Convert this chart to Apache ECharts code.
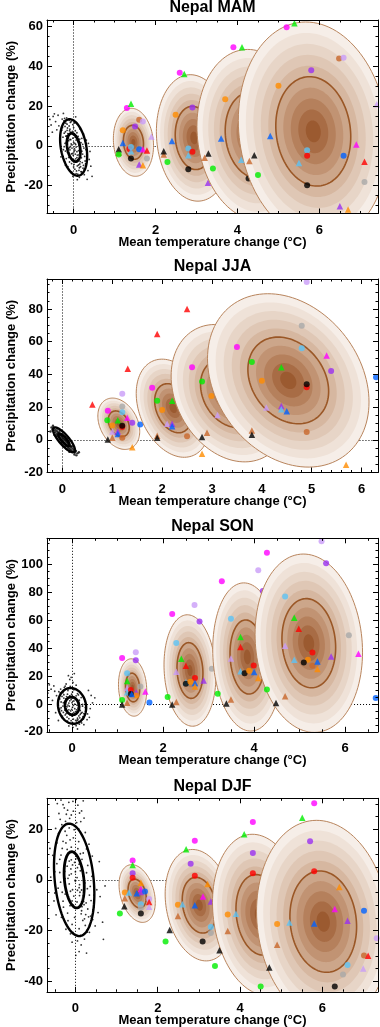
<!DOCTYPE html>
<html><head><meta charset="utf-8">
<script src="https://cdn.jsdelivr.net/npm/echarts@6/dist/echarts.min.js"></script>
<style>html,body{margin:0;padding:0;background:#fff}#c{width:380px;height:1027px}</style>
</head><body><div id="c"></div>
<script>
// ---------------- DATA ----------------
const TITLES = ['Nepal MAM', 'Nepal JJA', 'Nepal SON', 'Nepal DJF'];
const X_MIN = [-0.65, -0.31, -0.55, -0.69];
const X_MAX = [7.43, 6.33, 6.72, 7.35];
const Y_MIN = [-34, -20, -20, -44.2];
const Y_MAX = [63.3, 98.3, 118.9, 32.2];
const X_TICKS = [[0, 2, 4, 6], [0, 1, 2, 3, 4, 5, 6], [0, 2, 4, 6], [0, 2, 4, 6]];
const Y_TICKS = [[-20, 0, 20, 40, 60], [-20, 0, 20, 40, 60, 80], [-20, 0, 20, 40, 60, 80, 100], [-40, -20, 0, 20]];
const X_MINOR = [0.5, 0.2, 0.5, 0.5];
const Y_MINOR = [5, 5, 5, 5];

// control-run noise clouds (x, y)
const MAM_CLOUD = [[-0.21,9.8],[-0.14,6.2],[-0.07,3.1],[0.02,-1.4],[0.09,-4.6],[0.16,-7.9],[0.23,-11.2],
[-0.26,4.4],[-0.18,1.7],[-0.1,-0.9],[-0.03,-3.8],[0.05,-6.5],[0.12,-9.6],[0.19,-13.1],
[-0.24,12.6],[-0.16,10.9],[-0.09,8.4],[-0.01,5.7],[0.06,2.9],[0.13,0.2],[0.2,-2.7],[0.27,-5.3],
[-0.29,7.9],[-0.2,-2.6],[-0.12,-5.8],[-0.05,-8.9],[0.03,-11.7],[0.1,-14.2],
[-0.17,14.1],[-0.08,11.8],[0.0,9.2],[0.08,6.6],[0.15,3.4],[0.22,0.8],[0.3,-1.9],
[-0.33,2.2],[-0.23,-0.4],[-0.15,-3.3],[-0.06,-6.1],[0.01,-9.3],[0.07,-12.6],[0.14,-15.8],
[-0.11,12.9],[-0.02,10.7],[0.04,7.6],[0.11,4.8],[0.18,1.6],[0.25,-1.1],[0.32,-4.2],
[-0.36,10.1],[-0.28,13.5],[-0.19,4.9],[0.09,-17.0],[0.29,-9.1],[0.35,-12.4],[0.38,-6.8],
[-0.04,0.5],[0.03,-2.2],[-0.12,2.6],[0.1,-7.1],[-0.07,6.9],[0.17,-5.6],[-0.15,9.0],[0.21,-8.4],
[0.0,1.8],[0.06,-0.6],[-0.09,-2.0],[0.14,-11.0],[-0.2,7.1],[0.26,-14.5],
[-0.44,12.2],[-0.5,14.8],[-0.55,10.5],[-0.41,8.1],[-0.47,16.1],[-0.38,15.4],[-0.58,13.3],[-0.52,6.9],
[0.42,-10.2],[0.45,-15.3],[0.4,-2.8],[0.36,1.3],[-0.31,-5.5],[0.05,14.6],[-0.02,-15.3],[0.33,-16.8],[-0.25,16.3],
[-0.13,4.1],[-0.06,1.0],[0.01,-2.9],[0.08,-5.9],[0.15,-9.1],[-0.19,11.4],[-0.1,7.6],[-0.02,3.9],[0.05,0.7],[0.12,-2.4],[0.19,-6.0],[0.24,-9.8],
[-0.23,6.4],[-0.15,2.9],[-0.08,-0.3],[-0.01,-4.7],[0.07,-8.0],[0.13,-12.3],[-0.27,9.2],[-0.17,5.0],[-0.04,-1.1],[0.04,-4.1],[0.11,-6.9],[0.17,-10.5],
[-0.21,1.3],[-0.13,-1.5],[-0.05,-4.0],[0.02,-7.3],[0.09,-10.1],[-0.11,10.0],[-0.03,7.3],[0.04,4.4],[0.1,2.2],[0.16,-0.8],[0.22,-4.1],[0.28,-7.6],
[-0.18,-6.4],[-0.1,-8.1],[0.0,-10.6],[-0.25,-1.9],[0.2,3.8],[0.24,6.0],[-0.06,12.2],[0.02,11.5],[-0.14,-10.4],[0.06,-13.9],[-0.2,-9.7],[0.31,2.9],
[-0.09,3.3],[0.03,1.3],[-0.16,7.8],[0.13,-4.5],[-0.01,-6.9],[0.08,-2.9],[0.18,-12.9],[-0.22,13.8],[0.15,8.6],[-0.3,-2.8],[0.26,-12.0],[-0.05,-13.1]];
const JJA_CLOUD = [[-0.22,7.5],[-0.2,6.1],[-0.18,5.9],[-0.17,7.2],[-0.15,4.6],[-0.14,6.0],[-0.12,3.5],[-0.11,5.2],[-0.1,2.6],[-0.09,4.4],
[-0.08,1.9],[-0.07,3.8],[-0.06,1.2],[-0.05,3.0],[-0.04,0.4],[-0.03,2.4],[-0.02,-0.2],[-0.01,1.7],[0.0,-0.8],[0.01,1.0],
[0.02,-1.5],[0.03,0.3],[0.04,-2.1],[0.05,-0.3],[0.06,-2.8],[0.07,-1.0],[0.08,-3.5],[0.09,-1.6],[0.1,-4.1],[0.11,-2.3],
[0.12,-4.8],[0.13,-3.0],[0.14,-5.4],[0.15,-3.7],[0.16,-6.0],[0.17,-4.4],[0.18,-6.6],[0.2,-5.3],[0.21,-7.3],[0.23,-6.1],
[0.25,-7.8],[0.27,-6.9],[0.3,-8.3],[0.33,-7.6],[-0.24,5.1],[-0.19,8.6],[-0.13,2.1],[-0.06,5.3],[0.0,2.9],[0.05,-4.4],
[0.09,0.4],[0.14,-7.4],[0.19,-3.9],[0.24,-9.0],[-0.16,3.0],[-0.03,-1.8],[0.08,-5.6],[0.12,-1.1],[0.28,-9.5],[-0.1,6.8]];
const SON_CLOUD = [[-0.2,8.1],[-0.12,5.3],[-0.05,2.2],[0.03,-1.1],[0.1,-4.2],[0.18,-7.5],[0.25,-10.8],
[-0.27,3.6],[-0.19,0.9],[-0.11,-2.1],[-0.03,-5.0],[0.05,-8.1],[0.13,-11.4],[0.21,-13.6],
[-0.23,-4.8],[-0.15,-7.9],[-0.07,-10.6],[0.01,-13.4],[0.09,-15.6],
[-0.25,10.7],[-0.17,11.9],[-0.09,9.6],[-0.01,7.0],[0.07,4.1],[0.15,1.3],[0.23,-1.6],[0.3,-4.5],
[-0.31,-0.6],[-0.24,-2.7],[-0.16,-4.4],[-0.08,-6.6],[0.0,-8.8],[0.08,-11.8],[0.16,-14.5],
[-0.13,14.3],[-0.04,12.6],[0.04,10.2],[0.12,7.4],[0.2,4.6],[0.28,1.9],[0.34,-7.2],
[-0.34,5.9],[-0.29,8.8],[-0.21,-8.7],[-0.1,-12.4],[0.02,-16.8],[0.26,-14.9],[0.33,-11.3],
[-0.05,17.6],[0.02,15.4],[-0.08,20.3],[0.05,21.8],[-0.02,19.1],[0.09,13.5],
[0.0,0.9],[-0.06,-1.6],[0.06,-3.4],[-0.13,2.9],[0.11,-0.9],[0.17,-10.0],[-0.18,6.6],[0.22,-6.1],[-0.02,4.5],[0.04,-6.0],
[-0.4,12.9],[-0.46,10.6],[-0.5,13.7],[-0.38,9.1],[-0.43,2.5],[-0.53,7.8],
[0.4,-3.3],[0.45,0.8],[0.42,6.1],[0.5,4.4],[0.38,-9.6],[0.36,9.7],[-0.36,-6.3],[-0.3,-11.9],[0.12,-18.0],[-0.07,-15.8],
[-0.14,3.6],[-0.07,0.6],[0.01,-2.4],[0.08,-5.5],[0.15,-8.6],[-0.18,9.7],[-0.1,7.0],[-0.02,3.2],[0.06,-0.2],[0.13,-3.0],[0.2,-6.6],[0.24,-9.1],
[-0.22,5.4],[-0.16,1.9],[-0.09,-0.8],[-0.01,-3.9],[0.07,-7.0],[0.12,-10.2],[-0.26,7.9],[-0.2,-1.5],[-0.12,-4.9],[-0.04,-8.1],[0.03,-10.9],[0.1,-13.0],
[-0.08,11.0],[0.01,8.6],[0.09,5.8],[0.16,2.7],[0.23,-0.4],[0.29,-2.6],[-0.27,-3.6],[-0.19,-6.1],[-0.11,-9.4],[-0.02,-12.0],[0.06,-14.6],[-0.15,12.8],
[0.18,-4.7],[-0.05,5.8],[0.04,2.1],[-0.13,-6.9],[0.11,-11.7],[-0.24,1.4],[0.26,-6.9],[0.14,6.5],[-0.18,4.2],[0.2,-11.9],[0.0,11.9],[-0.07,-4.2]];
const DJF_CLOUD = [[-0.3,15.2],[-0.18,10.4],[-0.07,5.9],[0.04,0.9],[0.15,-4.0],[0.26,-9.1],[0.37,-14.3],
[-0.38,8.1],[-0.26,3.3],[-0.15,-1.6],[-0.04,-6.4],[0.07,-11.2],[0.18,-16.0],[0.29,-20.6],
[-0.42,-3.3],[-0.3,-8.4],[-0.19,-13.1],[-0.08,-17.6],[0.03,-21.8],[0.14,-25.7],
[-0.33,21.8],[-0.21,17.6],[-0.1,12.9],[0.01,8.3],[0.12,3.6],[0.23,-1.2],[0.34,-6.0],[0.45,-10.8],
[-0.45,14.6],[-0.34,-14.8],[-0.23,-19.5],[0.4,1.4],[0.52,-3.9],[0.48,-18.2],
[-0.14,24.3],[-0.03,19.8],[0.08,15.1],[0.19,10.6],[0.3,5.7],[0.41,9.4],
[-0.5,3.2],[-0.55,9.7],[-0.48,20.3],[-0.4,26.2],[-0.27,28.4],[-0.16,30.6],[-0.05,27.1],[0.06,29.5],[0.13,23.0],[0.19,31.2],
[-0.35,31.5],[-0.44,30.1],[-0.22,25.9],[0.02,31.8],[0.1,26.4],[-0.09,22.1],[0.24,18.7],[0.33,14.1],
[0.0,-0.5],[-0.1,2.4],[0.09,-3.1],[-0.2,5.4],[0.2,-8.5],[-0.12,-4.5],[0.1,-6.2],[-0.05,-10.0],[0.15,-12.2],[-0.25,0.5],
[0.05,4.8],[-0.15,7.4],[0.25,-13.7],[-0.32,-4.9],[0.35,-18.1],[-0.08,-24.6],[0.09,-28.3],[0.22,-23.4],[0.55,-12.9],[0.6,-6.6],
[-0.6,1.1],[-0.62,12.4],[0.66,-16.7],[0.72,-2.4],[-0.52,-8.3],[0.27,-28.9],[0.01,-29.8],[-0.47,-13.8],[0.58,7.2],[0.68,-23.5],
[-0.2,12.0],[-0.1,7.9],[0.0,3.2],[0.1,-1.9],[0.2,-6.7],[0.3,-11.5],[-0.28,5.1],[-0.18,0.6],[-0.07,-3.9],[0.04,-8.7],[0.14,-13.4],[0.24,-18.0],
[-0.25,19.2],[-0.13,15.8],[-0.02,11.1],[0.09,6.2],[0.19,1.4],[0.29,-3.5],[0.38,-8.2],[-0.36,-0.9],[-0.25,-5.6],[-0.13,-10.2],[-0.02,-14.8],[0.09,-19.3],
[-0.32,12.4],[-0.22,8.7],[-0.11,4.3],[-0.01,-0.2],[0.11,-4.9],[0.21,-9.8],[0.32,-14.6],[-0.38,2.9],[-0.29,-10.8],[-0.18,-16.1],[-0.06,-20.7],[0.05,-24.1],
[-0.15,20.5],[-0.05,16.6],[0.06,12.3],[0.16,8.1],[0.27,2.8],[0.36,-2.6],[-0.41,18.3],[-0.37,23.9],[-0.24,23.1],[-0.1,25.6],[0.03,22.6],[0.15,27.2],
[-0.3,29.7],[-0.19,27.5],[-0.06,31.0],[0.08,20.1],[0.21,24.4],[0.27,12.2],[-0.45,6.4],[-0.5,-5.2],[0.45,-6.0],[0.42,-15.7],[0.12,-21.9],[-0.12,-21.3],
[-0.02,6.9],[0.05,-4.1],[-0.15,1.9],[0.16,-10.6],[-0.08,-8.3],[0.22,-15.4],[-0.23,14.6],[0.12,10.3],[-0.35,9.8],[0.34,-20.7]];

// noise ellipse [cx, cy, sdX, sdY, corr]
const NOISE_ELL = [[0, -0.8, 0.165, 7.1, -0.3], [0.03, 0, 0.11, 3.8, -0.82], [0, -1.4, 0.155, 6.4, -0.1], [-0.03, 0, 0.245, 11.1, -0.25]];

// projected-change ellipses per period [cx, cy, sdX, sdY, corr]
const MAM_ELL = [[1.46, 1.8, 0.245, 8.55, -0.1], [2.94, 4, 0.46, 15.9, -0.1], [4.39, 5.5, 0.69, 21.5, -0.1], [5.85, 7.3, 0.915, 27.5, -0.1]];
const JJA_ELL = [[1.13, 9.8, 0.21, 7.85, -0.3], [2.22, 19.3, 0.37, 15, -0.3], [3.36, 28.5, 0.59, 21, -0.25], [4.53, 36.3, 0.81, 26.5, -0.25]];
const SON_ELL = [[1.33, 11.8, 0.155, 10.3, -0.1], [2.59, 24, 0.285, 20, -0.1], [3.85, 33.7, 0.38, 26.6, -0.1], [5.2, 43.6, 0.59, 32, -0.1]];
const DJF_ELL = [[1.5, -5.4, 0.22, 5.7, -0.3], [3.01, -10, 0.415, 11, -0.2], [4.47, -13.8, 0.57, 15.9, -0.15], [6.02, -16.5, 0.81, 20, -0.1]];

// model markers [x, y, colour+shape code]
const MAM_G1 = [[1.30,19.0,'mc'],[1.40,21.2,'gt'],[1.60,13.1,'bc'],[1.69,12.3,'lc'],[1.50,9.8,'pc'],[1.20,7.8,'oc'],[1.90,4.7,'lt'],[1.20,1.5,'ut'],[1.10,-3.5,'bt'],[1.10,-1.7,'kt'],[1.10,-4.3,'gc'],[1.36,-1.6,'rc'],[1.40,-2.7,'st'],[1.40,-0.5,'sc'],[1.60,-1.7,'uc'],[1.69,-1.7,'mt'],[1.79,-2.3,'rt'],[1.40,-6.4,'kc'],[1.79,-6.4,'yc'],[1.60,-9.4,'pt'],[1.69,-9.8,'ot']];
const MAM_G2 = [[2.59,36.8,'mc'],[2.70,36.1,'gt'],[2.90,19.3,'pc'],[2.49,15.6,'oc'],[2.40,2.4,'ut'],[2.20,-4.3,'bt'],[2.20,-2.7,'kt'],[2.29,-8.1,'gc'],[2.80,-1.3,'sc'],[2.90,-3.0,'rc'],[2.80,-4.7,'st'],[2.80,-11.7,'kc'],[3.28,-18.5,'pt']];
const MAM_G3 = [[3.90,49.6,'mc'],[4.11,49.6,'gt'],[3.70,23.4,'oc'],[3.60,3.7,'ut'],[3.29,-3.8,'kt'],[3.20,-6.0,'bt'],[3.40,-11.4,'gc'],[4.27,-16.4,'kc']];
const MAM_G4 = [[5.20,59.6,'mc'],[5.39,61.7,'gt'],[6.48,44.0,'bc'],[6.59,44.3,'lc'],[5.80,38.0,'pc'],[5.00,30.2,'oc'],[7.40,20.9,'lt'],[4.80,5.0,'ut'],[6.90,0.7,'mt'],[5.70,-2.2,'sc'],[5.70,-5.0,'rc'],[6.59,-4.9,'uc'],[5.50,-8.6,'st'],[7.10,-8.0,'rt'],[7.10,-18.1,'yc'],[5.70,-19.8,'kc'],[6.50,-30.4,'pt'],[6.70,-32.0,'ot'],[4.41,-4.7,'kt'],[4.29,-7.6,'bt'],[4.50,-14.6,'gc'],[4.09,-7.0,'st']];
const JJA_G1 = [[0.60,21.6,'rt'],[1.31,43.4,'rt'],[0.91,17.7,'mc'],[1.20,28.1,'lc'],[1.20,20.4,'yc'],[1.20,16.9,'sc'],[1.30,13.5,'mt'],[0.90,11.9,'gc'],[1.11,12.0,'gt'],[1.40,10.4,'pc'],[1.56,9.4,'uc'],[1.00,8.8,'oc'],[1.20,7.8,'rc'],[1.20,8.6,'kc'],[1.00,5.1,'lt'],[1.11,5.1,'pt'],[1.11,3.5,'ut'],[1.00,1.2,'bt'],[1.20,1.2,'bc'],[0.91,0.2,'kt'],[1.40,-4.5,'ot']];
const JJA_G2 = [[1.90,64.6,'rt'],[1.80,31.8,'mc'],[1.90,23.9,'gc'],[2.20,23.9,'gt'],[2.00,18.2,'oc'],[2.10,9.8,'lt'],[2.20,9.8,'pt'],[2.20,8.2,'ut'],[1.90,2.5,'bt'],[1.90,1.2,'kt'],[2.50,2.2,'bc']];
const JJA_G3 = [[2.50,79.9,'rt'],[2.60,44.3,'mc'],[2.80,35.7,'gc'],[2.99,26.7,'oc'],[3.11,15.1,'lt'],[2.90,4.3,'bt'],[2.80,1.7,'kt'],[2.80,-8.6,'ot']];
const JJA_G4 = [[4.90,96.5,'lc'],[4.80,69.7,'yc'],[3.50,56.7,'mc'],[4.80,55.9,'sc'],[5.30,51.6,'mt'],[3.80,47.5,'gc'],[4.39,44.3,'gt'],[5.39,42.0,'pc'],[4.00,36.1,'oc'],[4.90,32.1,'rc'],[4.90,33.9,'kc'],[6.29,38.2,'uc'],[4.09,19.8,'lt'],[4.39,20.6,'pt'],[4.39,18.6,'st'],[4.50,17.4,'ut'],[3.80,5.7,'bt'],[3.80,3.1,'kt'],[4.90,4.7,'bc'],[5.69,-15.3,'ot']];
const SON_G1 = [[1.10,32.9,'mc'],[1.40,37.1,'lc'],[1.40,31.4,'pc'],[1.21,22.1,'sc'],[1.21,16.4,'gt'],[1.21,11.4,'lt'],[1.29,10.0,'rc'],[1.50,12.6,'yc'],[1.61,8.9,'mt'],[1.21,8.4,'st'],[1.41,8.4,'pt'],[1.41,6.1,'oc'],[1.29,7.1,'kc'],[1.31,7.2,'ut'],[1.10,2.9,'gc'],[1.70,1.0,'uc'],[1.10,-0.4,'kt'],[1.21,0.9,'bt']];
const SON_G2 = [[2.20,64.6,'mc'],[2.69,71.0,'lc'],[2.80,59.1,'pc'],[2.29,43.8,'sc'],[2.40,32.4,'gt'],[2.50,27.4,'rt'],[2.29,23.1,'lt'],[2.70,18.6,'rc'],[2.50,15.5,'st'],[2.50,14.5,'kc'],[2.60,16.0,'oc'],[2.70,15.0,'ut'],[2.70,12.5,'ot'],[2.89,16.9,'pt'],[2.10,5.0,'gc'],[2.20,-0.4,'kt'],[2.29,1.4,'bt'],[3.07,25.3,'yc']];
const SON_G3 = [[3.29,88.1,'mc'],[4.09,96.0,'lc'],[4.19,81.0,'pc'],[3.49,61.2,'sc'],[3.70,48.1,'gt'],[3.70,40.8,'rt'],[3.49,32.6,'lt'],[3.99,27.6,'rc'],[3.70,23.4,'st'],[3.79,22.1,'kc'],[3.89,23.8,'oc'],[4.00,22.9,'ut'],[4.09,18.6,'ot'],[3.39,0.3,'kt'],[3.49,3.1,'bt'],[3.20,7.4,'gc']];
const SON_G4 = [[5.48,116.7,'lc'],[5.58,101.0,'pc'],[4.28,108.6,'mc'],[4.68,77.1,'sc'],[4.88,61.9,'gt'],[4.98,53.9,'rt'],[6.08,49.3,'yc'],[4.68,41.7,'lt'],[5.28,36.9,'rc'],[6.29,36.0,'mt'],[5.69,34.1,'pt'],[4.88,31.7,'st'],[5.28,27.5,'bc'],[5.18,31.7,'oc'],[5.09,29.8,'kc'],[5.39,30.5,'ut'],[5.39,25.0,'ot'],[4.68,5.5,'bt'],[4.48,0.7,'kt'],[4.28,10.3,'gc'],[6.67,4.3,'uc']];
const DJF_G1 = [[1.39,7.6,'mc'],[1.39,5.9,'gt'],[1.39,2.6,'pc'],[1.39,0.8,'rc'],[1.59,-1.1,'ot'],[1.20,-5.0,'oc'],[1.30,-5.0,'st'],[1.59,-3.6,'mt'],[1.59,-4.8,'pt'],[1.69,-4.6,'uc'],[1.49,-5.3,'ut'],[1.20,-7.3,'bt'],[1.79,-7.6,'lc'],[1.79,-8.7,'rt'],[1.79,-10.6,'lt'],[1.59,-9.6,'sc'],[1.59,-11.0,'yc'],[1.19,-10.4,'kt'],[1.59,-13.3,'kc'],[1.08,-13.3,'gc']];
const DJF_G2 = [[2.90,15.4,'mc'],[2.69,12.1,'gt'],[2.80,6.4,'pc'],[2.90,1.6,'rc'],[3.21,-1.6,'ot'],[3.10,-6.6,'mt'],[2.49,-9.8,'oc'],[2.60,-9.6,'st'],[2.90,-10.0,'ut'],[3.29,-8.5,'pt'],[2.49,-14.3,'bt'],[3.29,-18.6,'sc'],[3.29,-21.0,'yc'],[2.29,-19.8,'kt'],[3.09,-24.3,'kc'],[2.19,-24.3,'gc']];
const DJF_G3 = [[4.31,22.8,'mc'],[4.10,18.0,'gt'],[4.31,10.6,'pc'],[4.31,2.6,'rc'],[3.70,-13.7,'oc'],[3.90,-13.4,'st'],[3.70,-20.2,'bt'],[3.50,-27.8,'kt'],[3.39,-34.0,'gc']];
const DJF_G4 = [[5.80,30.2,'mc'],[5.51,24.5,'gt'],[5.70,15.2,'pc'],[5.80,3.4,'rc'],[6.41,-2.8,'ot'],[6.30,-11.5,'mt'],[7.01,-12.2,'uc'],[4.90,-17.4,'oc'],[5.20,-16.8,'st'],[5.80,-17.2,'ut'],[6.61,-16.1,'pt'],[7.32,-23.1,'lc'],[4.90,-25.6,'bt'],[7.01,-29.9,'bc'],[7.11,-30.0,'rt'],[6.61,-33.6,'sc'],[6.99,-35.0,'lt'],[6.50,-37.4,'yc'],[6.30,-42.1,'kc'],[4.71,-34.6,'kt'],[4.50,-42.1,'gc']];

// ---------------- STYLE ----------------
const FONT = '"Liberation Sans", Arial, Helvetica, sans-serif';
const COLORS = {m:'#ff00ff', g:'#00ee00', o:'#ff8c00', p:'#9a30f0', l:'#c99cf7', b:'#c8662a', r:'#ff0000', u:'#0062ff', s:'#5cc3f5', k:'#000000', y:'#a9a9a9'};
const BAND_COLORS = ['#f6eee8','#efe2d8','#e7d5c7','#dfc7b5','#d6b7a0','#cca68a','#c19373','#b5805c','#a86c45','#9b5a30'];
const OUTER_LINE = '#b8845c', INNER_LINE = '#9a5726';
const GRID_TOP = [20, 279, 538.3, 798.3];
const GRID_H = 193.5, GRID_L = 47, GRID_R = 2;

const CLOUDS = [MAM_CLOUD, JJA_CLOUD, SON_CLOUD, DJF_CLOUD];
const ELLS = [MAM_ELL, JJA_ELL, SON_ELL, DJF_ELL];
const MARKERS = [[MAM_G1, MAM_G2, MAM_G3, MAM_G4], [JJA_G1, JJA_G2, JJA_G3, JJA_G4], [SON_G1, SON_G2, SON_G3, SON_G4], [DJF_G1, DJF_G2, DJF_G3, DJF_G4]];

function ellPts(api, e, k) {
  const [cx, cy, sx, sy, r] = e; const q = Math.sqrt(1 - r * r); const pts = [];
  for (let i = 0; i < 120; i++) {
    const t = i / 120 * Math.PI * 2;
    pts.push(api.coord([cx + k * sx * Math.cos(t), cy + k * sy * (r * Math.cos(t) + q * Math.sin(t))]));
  }
  return pts;
}
function vals(api) { return [api.value(0), api.value(1), api.value(2), api.value(3), api.value(4)]; }
function renderBrown(params, api) {
  const e = vals(api); const ch = [];
  for (let i = 0; i < 10; i++) {
    const k = 2 - i * 0.2;
    ch.push({type: 'polygon', shape: {points: ellPts(api, e, k)}, style: {fill: BAND_COLORS[i], stroke: i === 0 ? OUTER_LINE : null, lineWidth: i === 0 ? 1 : 0}});
  }
  ch.push({type: 'polygon', shape: {points: ellPts(api, e, 1)}, style: {fill: 'none', stroke: INNER_LINE, lineWidth: 1.6}});
  return {type: 'group', children: ch};
}
function renderNoise(params, api) {
  const e = vals(api);
  return {type: 'group', children: [
    {type: 'polygon', shape: {points: ellPts(api, e, 2)}, style: {fill: 'none', stroke: '#000', lineWidth: 2.4}},
    {type: 'polygon', shape: {points: ellPts(api, e, 1)}, style: {fill: 'none', stroke: '#000', lineWidth: 2.8}}
  ]};
}
function ticksBetween(a, b, step) {
  const out = []; for (let v = Math.ceil(a / step - 1e-9) * step; v <= b + 1e-9; v += step) out.push(+v.toFixed(4)); return out;
}
const labelStyle = {color: '#000', fontSize: 13, fontWeight: 'bold', fontFamily: FONT};

const grids = [], xAxes = [], yAxes = [], series = [], graphics = [];
for (let p = 0; p < 4; p++) {
  grids.push({left: GRID_L, right: GRID_R, top: GRID_TOP[p], height: GRID_H, containLabel: false, outerBoundsMode: 'none'});
  graphics.push({type: 'text', x: GRID_L + (380 - GRID_L - GRID_R) / 2, y: GRID_TOP[p] - 12,
    style: {text: TITLES[p], font: 'bold 16px ' + FONT, fill: '#000', textAlign: 'center', textVerticalAlign: 'middle'}});
  const xc = {gridIndex: p, type: 'value', min: X_MIN[p], max: X_MAX[p], splitLine: {show: false}, z: 50, silent: true};
  const yc = {gridIndex: p, type: 'value', min: Y_MIN[p], max: Y_MAX[p], splitLine: {show: false}, z: 50, silent: true};
  const line = {onZero: false, lineStyle: {color: '#000', width: 1}};
  const xmin = ticksBetween(X_MIN[p], X_MAX[p], X_MINOR[p]);
  const ymin = ticksBetween(Y_MIN[p], Y_MAX[p], Y_MINOR[p]);
  xAxes.push(Object.assign({}, xc, {position: 'bottom', axisLine: line,
    axisTick: {inside: true, length: 5, customValues: X_TICKS[p], lineStyle: {color: '#000'}},
    axisLabel: Object.assign({customValues: X_TICKS[p], margin: 10}, labelStyle),
    name: 'Mean temperature change (°C)', nameLocation: 'middle', nameGap: 22, nameMoveOverlap: false, nameTextStyle: labelStyle}));
  xAxes.push(Object.assign({}, xc, {position: 'top', axisLine: line,
    axisTick: {inside: true, length: 5, customValues: X_TICKS[p], lineStyle: {color: '#000'}}, axisLabel: {show: false}}));
  xAxes.push(Object.assign({}, xc, {position: 'bottom', axisLine: {show: false, onZero: false},
    axisTick: {inside: true, length: 2.5, customValues: xmin, lineStyle: {color: '#000'}}, axisLabel: {show: false}}));
  xAxes.push(Object.assign({}, xc, {position: 'top', axisLine: {show: false, onZero: false},
    axisTick: {inside: true, length: 2.5, customValues: xmin, lineStyle: {color: '#000'}}, axisLabel: {show: false}}));
  yAxes.push(Object.assign({}, yc, {position: 'left', axisLine: line,
    axisTick: {inside: true, length: 5, customValues: Y_TICKS[p], lineStyle: {color: '#000'}},
    axisLabel: Object.assign({customValues: Y_TICKS[p], margin: 4}, labelStyle),
    name: 'Precipitation change (%)', nameLocation: 'middle', nameGap: 29, nameMoveOverlap: false, nameTextStyle: labelStyle}));
  yAxes.push(Object.assign({}, yc, {position: 'right', axisLine: line,
    axisTick: {inside: true, length: 5, customValues: Y_TICKS[p], lineStyle: {color: '#000'}}, axisLabel: {show: false}}));
  yAxes.push(Object.assign({}, yc, {position: 'left', axisLine: {show: false, onZero: false},
    axisTick: {inside: true, length: 2.5, customValues: ymin, lineStyle: {color: '#000'}}, axisLabel: {show: false}}));
  yAxes.push(Object.assign({}, yc, {position: 'right', axisLine: {show: false, onZero: false},
    axisTick: {inside: true, length: 2.5, customValues: ymin, lineStyle: {color: '#000'}}, axisLabel: {show: false}}));

  const ax = {xAxisIndex: p * 4, yAxisIndex: p * 4};
  series.push(Object.assign({type: 'scatter', data: CLOUDS[p], symbolSize: p === 1 ? 2.4 : 1.8, itemStyle: {color: '#000'}, z: 3, silent: true,
    markLine: {silent: true, symbol: 'none', z: 1, animation: false, label: {show: false},
      lineStyle: {color: '#000', width: 1, type: [1, 2]},
      data: [{xAxis: 0}, [{coord: [0, 0]}, {coord: [X_MAX[p], 0]}]]}}, ax));
  series.push(Object.assign({type: 'custom', data: [NOISE_ELL[p]], dimensions: ['cx', 'cy', 'sx', 'sy', 'r'], encode: {x: 'cx', y: 'cy'},
    renderItem: renderNoise, z: 4, clip: true, silent: true}, ax));
  ELLS[p].forEach((e, k) => {
    series.push(Object.assign({type: 'custom', data: [e], dimensions: ['cx', 'cy', 'sx', 'sy', 'r'], encode: {x: 'cx', y: 'cy'},
      renderItem: renderBrown, z: 10 + 2 * k, clip: true, silent: true}, ax));
    series.push(Object.assign({type: 'scatter', z: 11 + 2 * k, silent: true, clip: true,
      data: MARKERS[p][k].map(d => ({value: [d[0], d[1]], symbol: d[2][1] === 't' ? 'triangle' : 'circle',
        symbolSize: d[2][1] === 't' ? 6.5 : 6, itemStyle: {color: COLORS[d[2][0]]}}))}, ax));
  });
}

const chart = echarts.init(document.getElementById('c'), null, {renderer: 'canvas'});
chart.setOption({animation: false, backgroundColor: '#fff', grid: grids, xAxis: xAxes, yAxis: yAxes, series: series, graphic: graphics});
</script></body></html>
